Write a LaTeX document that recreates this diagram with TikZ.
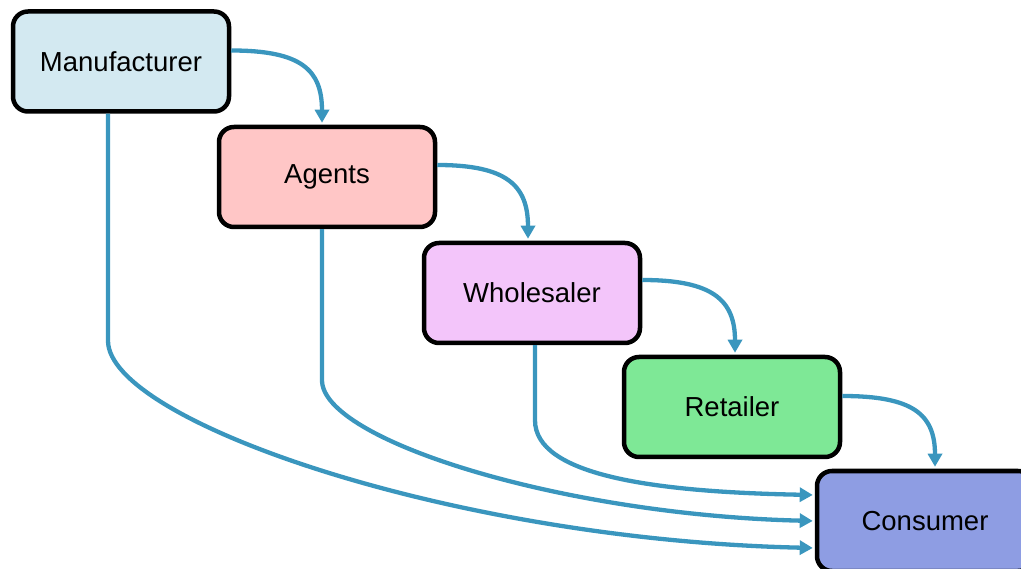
\documentclass[tikz,border=0pt]{standalone}
\usepackage{fontspec}
\setmainfont{Liberation Sans}
\usetikzlibrary{arrows.meta}
\definecolor{linkblue}{HTML}{3A96BE}
\definecolor{fillman}{HTML}{D3E9F1}
\definecolor{fillagt}{HTML}{FFC6C6}
\definecolor{fillwho}{HTML}{F3C5FA}
\definecolor{fillret}{HTML}{7EE896}
\definecolor{fillcon}{HTML}{8E9DE3}
\tikzset{
  stage/.style={draw=black, line width=4.5pt, rounded corners=15pt,
    minimum width=216pt, minimum height=100pt, inner sep=0pt,
    font=\fontsize{27.5}{33}\selectfont},
  link/.style={draw=linkblue, line width=4.3pt,
    -{Triangle[length=13pt,width=14pt]}, shorten >=2pt}
}
\begin{document}
\begin{tikzpicture}[x=1pt, y=-1pt]
  \useasboundingbox (0,0) rectangle (1021,569);
  \clip (0,0) rectangle (1021,569);

  % distribution stages
  \node[stage, fill=fillman] (man) at (121,61.5) {Manufacturer};
  \node[stage, fill=fillagt] (agt) at (327,177) {Agents};
  \node[stage, fill=fillwho] (who) at (532,293) {Wholesaler};
  \node[stage, fill=fillret] (ret) at (732,407) {Retailer};
  \node[stage, fill=fillcon] (con) at (925,521) {Consumer};

  % step-by-step chain
  \draw[link] ([yshift=11pt]man.east) .. controls +(70,0) and +(0,-55) .. ([xshift=-5pt]agt.north);
  \draw[link] ([yshift=12pt]agt.east) .. controls +(70,0) and +(0,-55) .. ([xshift=-4pt]who.north);
  \draw[link] ([yshift=13pt]who.east) .. controls +(70,0) and +(0,-55) .. ([xshift=3pt]ret.north);
  \draw[link] ([yshift=11pt]ret.east) .. controls +(70,0) and +(0,-55) .. ([xshift=10pt]con.north);

  % direct routes to the consumer
  \draw[link] ([xshift=-13pt]man.south) -- ++(0,227)
    .. controls +(0,80) and +(-362,-8) .. ([yshift=-27pt]con.west);
  \draw[link] ([xshift=-5pt]agt.south) -- ++(0,151)
    .. controls +(0,60) and +(-252,-6) .. (con.west);
  \draw[link] ([xshift=3pt]who.south) -- ++(0,75)
    .. controls +(0,55) and +(-162,-3) .. ([yshift=26pt]con.west);
\end{tikzpicture}
\end{document}
